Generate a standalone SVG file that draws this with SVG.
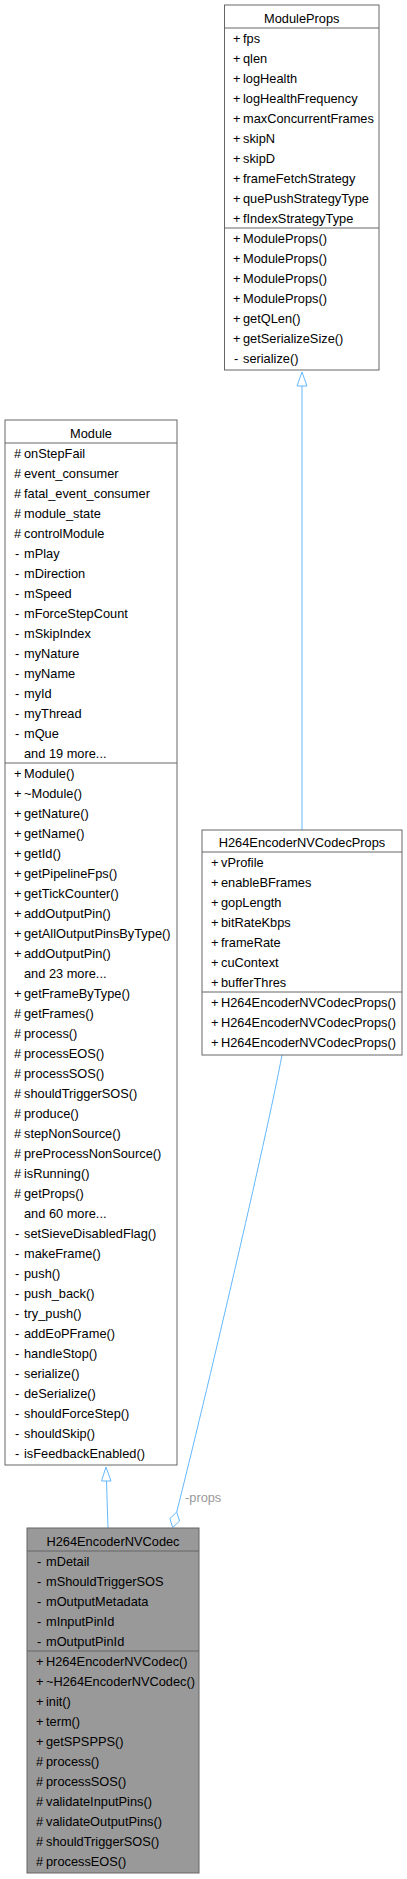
<svg xmlns="http://www.w3.org/2000/svg" width="407" height="1879" viewBox="0 0 407 1879">
<style>
.box{fill:#ffffff;stroke:#666666;stroke-width:1}
.boxg{fill:#999999;stroke:#666666;stroke-width:1}
.div{stroke:#666666;stroke-width:1}
text{font-family:"Liberation Sans",Arial,Helvetica,sans-serif;font-size:12.8px;fill:#000000}
.c{text-anchor:middle}
.edge{fill:none;stroke:#63b8ff;stroke-width:1}
.head{fill:#ffffff;stroke:#63b8ff;stroke-width:1}
.lbl{fill:#9a9a9a}
</style>
<rect width="407" height="1879" fill="#ffffff"/>
<g id="connectors">
<path class="edge" d="M302,830 L302,386"/>
<polygon class="head" points="302,372 307,386 297,386"/>
<path class="edge" d="M108,1528 L106.5,1481"/>
<polygon class="head" points="106,1467 111,1481 101.5,1481"/>
<path class="edge" d="M282,1055 C266,1140 205,1400 176.7,1512"/>
<polygon class="head" points="176.7,1512 179.5,1521 172.7,1527.5 169.9,1518.5"/>
<text class="lbl" x="185" y="1502">-props</text>
</g>
<g id="ModuleProps">
<rect class="box" x="224.5" y="5" width="154.5" height="365"/>
<line class="div" x1="224.5" y1="28" x2="379" y2="28"/>
<line class="div" x1="224.5" y1="228" x2="379" y2="228"/>
<text class="c" x="301.75" y="23">ModuleProps</text>
<text x="233" y="43">+</text><text x="243" y="43">fps</text>
<text x="233" y="63">+</text><text x="243" y="63">qlen</text>
<text x="233" y="83">+</text><text x="243" y="83">logHealth</text>
<text x="233" y="103">+</text><text x="243" y="103">logHealthFrequency</text>
<text x="233" y="123">+</text><text x="243" y="123">maxConcurrentFrames</text>
<text x="233" y="143">+</text><text x="243" y="143">skipN</text>
<text x="233" y="163">+</text><text x="243" y="163">skipD</text>
<text x="233" y="183">+</text><text x="243" y="183">frameFetchStrategy</text>
<text x="233" y="203">+</text><text x="243" y="203">quePushStrategyType</text>
<text x="233" y="223">+</text><text x="243" y="223">fIndexStrategyType</text>
<text x="233" y="243">+</text><text x="243" y="243">ModuleProps()</text>
<text x="233" y="263">+</text><text x="243" y="263">ModuleProps()</text>
<text x="233" y="283">+</text><text x="243" y="283">ModuleProps()</text>
<text x="233" y="303">+</text><text x="243" y="303">ModuleProps()</text>
<text x="233" y="323">+</text><text x="243" y="323">getQLen()</text>
<text x="233" y="343">+</text><text x="243" y="343">getSerializeSize()</text>
<text x="234" y="363">-</text><text x="243" y="363">serialize()</text>
</g>
<g id="Module">
<rect class="box" x="5" y="420" width="172" height="1045"/>
<line class="div" x1="5" y1="443" x2="177" y2="443"/>
<line class="div" x1="5" y1="763" x2="177" y2="763"/>
<text class="c" x="91" y="438">Module</text>
<text x="14" y="458">#</text><text x="24" y="458">onStepFail</text>
<text x="14" y="478">#</text><text x="24" y="478">event_consumer</text>
<text x="14" y="498">#</text><text x="24" y="498">fatal_event_consumer</text>
<text x="14" y="518">#</text><text x="24" y="518">module_state</text>
<text x="14" y="538">#</text><text x="24" y="538">controlModule</text>
<text x="15" y="558">-</text><text x="24" y="558">mPlay</text>
<text x="15" y="578">-</text><text x="24" y="578">mDirection</text>
<text x="15" y="598">-</text><text x="24" y="598">mSpeed</text>
<text x="15" y="618">-</text><text x="24" y="618">mForceStepCount</text>
<text x="15" y="638">-</text><text x="24" y="638">mSkipIndex</text>
<text x="15" y="658">-</text><text x="24" y="658">myNature</text>
<text x="15" y="678">-</text><text x="24" y="678">myName</text>
<text x="15" y="698">-</text><text x="24" y="698">myId</text>
<text x="15" y="718">-</text><text x="24" y="718">myThread</text>
<text x="15" y="738">-</text><text x="24" y="738">mQue</text>
<text x="24" y="758">and 19 more...</text>
<text x="14" y="778">+</text><text x="24" y="778">Module()</text>
<text x="14" y="798">+</text><text x="24" y="798">~Module()</text>
<text x="14" y="818">+</text><text x="24" y="818">getNature()</text>
<text x="14" y="838">+</text><text x="24" y="838">getName()</text>
<text x="14" y="858">+</text><text x="24" y="858">getId()</text>
<text x="14" y="878">+</text><text x="24" y="878">getPipelineFps()</text>
<text x="14" y="898">+</text><text x="24" y="898">getTickCounter()</text>
<text x="14" y="918">+</text><text x="24" y="918">addOutputPin()</text>
<text x="14" y="938">+</text><text x="24" y="938">getAllOutputPinsByType()</text>
<text x="14" y="958">+</text><text x="24" y="958">addOutputPin()</text>
<text x="24" y="978">and 23 more...</text>
<text x="14" y="998">+</text><text x="24" y="998">getFrameByType()</text>
<text x="14" y="1018">#</text><text x="24" y="1018">getFrames()</text>
<text x="14" y="1038">#</text><text x="24" y="1038">process()</text>
<text x="14" y="1058">#</text><text x="24" y="1058">processEOS()</text>
<text x="14" y="1078">#</text><text x="24" y="1078">processSOS()</text>
<text x="14" y="1098">#</text><text x="24" y="1098">shouldTriggerSOS()</text>
<text x="14" y="1118">#</text><text x="24" y="1118">produce()</text>
<text x="14" y="1138">#</text><text x="24" y="1138">stepNonSource()</text>
<text x="14" y="1158">#</text><text x="24" y="1158">preProcessNonSource()</text>
<text x="14" y="1178">#</text><text x="24" y="1178">isRunning()</text>
<text x="14" y="1198">#</text><text x="24" y="1198">getProps()</text>
<text x="24" y="1218">and 60 more...</text>
<text x="15" y="1238">-</text><text x="24" y="1238">setSieveDisabledFlag()</text>
<text x="15" y="1258">-</text><text x="24" y="1258">makeFrame()</text>
<text x="15" y="1278">-</text><text x="24" y="1278">push()</text>
<text x="15" y="1298">-</text><text x="24" y="1298">push_back()</text>
<text x="15" y="1318">-</text><text x="24" y="1318">try_push()</text>
<text x="15" y="1338">-</text><text x="24" y="1338">addEoPFrame()</text>
<text x="15" y="1358">-</text><text x="24" y="1358">handleStop()</text>
<text x="15" y="1378">-</text><text x="24" y="1378">serialize()</text>
<text x="15" y="1398">-</text><text x="24" y="1398">deSerialize()</text>
<text x="15" y="1418">-</text><text x="24" y="1418">shouldForceStep()</text>
<text x="15" y="1438">-</text><text x="24" y="1438">shouldSkip()</text>
<text x="15" y="1458">-</text><text x="24" y="1458">isFeedbackEnabled()</text>
</g>
<g id="H264EncoderNVCodecProps">
<rect class="box" x="202" y="830" width="200" height="225"/>
<line class="div" x1="202" y1="852" x2="402" y2="852"/>
<line class="div" x1="202" y1="992" x2="402" y2="992"/>
<text class="c" x="302" y="847">H264EncoderNVCodecProps</text>
<text x="211" y="867">+</text><text x="221" y="867">vProfile</text>
<text x="211" y="887">+</text><text x="221" y="887">enableBFrames</text>
<text x="211" y="907">+</text><text x="221" y="907">gopLength</text>
<text x="211" y="927">+</text><text x="221" y="927">bitRateKbps</text>
<text x="211" y="947">+</text><text x="221" y="947">frameRate</text>
<text x="211" y="967">+</text><text x="221" y="967">cuContext</text>
<text x="211" y="987">+</text><text x="221" y="987">bufferThres</text>
<text x="211" y="1007">+</text><text x="221" y="1007">H264EncoderNVCodecProps()</text>
<text x="211" y="1027">+</text><text x="221" y="1027">H264EncoderNVCodecProps()</text>
<text x="211" y="1047">+</text><text x="221" y="1047">H264EncoderNVCodecProps()</text>
</g>
<g id="H264EncoderNVCodec">
<rect class="boxg" x="27" y="1528" width="172" height="345"/>
<line class="div" x1="27" y1="1551" x2="199" y2="1551"/>
<line class="div" x1="27" y1="1651" x2="199" y2="1651"/>
<text class="c" x="113" y="1546">H264EncoderNVCodec</text>
<text x="37" y="1566">-</text><text x="46" y="1566">mDetail</text>
<text x="37" y="1586">-</text><text x="46" y="1586">mShouldTriggerSOS</text>
<text x="37" y="1606">-</text><text x="46" y="1606">mOutputMetadata</text>
<text x="37" y="1626">-</text><text x="46" y="1626">mInputPinId</text>
<text x="37" y="1646">-</text><text x="46" y="1646">mOutputPinId</text>
<text x="36" y="1666">+</text><text x="46" y="1666">H264EncoderNVCodec()</text>
<text x="36" y="1686">+</text><text x="46" y="1686">~H264EncoderNVCodec()</text>
<text x="36" y="1706">+</text><text x="46" y="1706">init()</text>
<text x="36" y="1726">+</text><text x="46" y="1726">term()</text>
<text x="36" y="1746">+</text><text x="46" y="1746">getSPSPPS()</text>
<text x="36" y="1766">#</text><text x="46" y="1766">process()</text>
<text x="36" y="1786">#</text><text x="46" y="1786">processSOS()</text>
<text x="36" y="1806">#</text><text x="46" y="1806">validateInputPins()</text>
<text x="36" y="1826">#</text><text x="46" y="1826">validateOutputPins()</text>
<text x="36" y="1846">#</text><text x="46" y="1846">shouldTriggerSOS()</text>
<text x="36" y="1866">#</text><text x="46" y="1866">processEOS()</text>
</g>
</svg>
